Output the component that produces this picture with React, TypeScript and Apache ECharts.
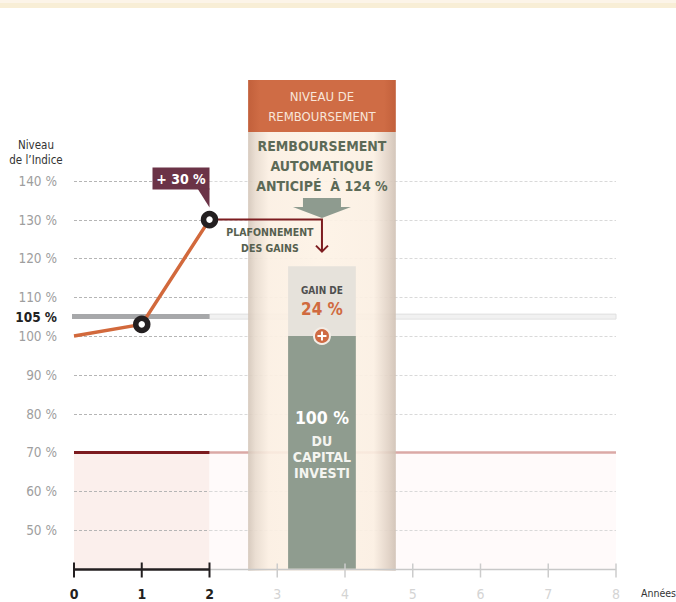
import React, { useEffect, useRef } from "react";
import * as echarts from "echarts";

// ---- data ----
const years = [0, 1, 2];
const indexLevels = [100, 103, 130];
const markerYears = [1, 2];
const markerLevels = [103, 130];
const xTicks = [0, 1, 2, 3, 4, 5, 6, 7, 8];
const yTicks = [50, 60, 70, 80, 90, 100, 110, 120, 130, 140];
const gridLevels = [50, 60, 80, 90, 100, 110, 120, 130, 140];
const barrierLevel = 70;
const thresholdLevel = 105;
const elapsedYears = 2;
const capLevel = 130;
const capitalLevel = 100;
const gainLevel = 118;
const redemptionWindow = [2.57, 4.75];
const redemptionCenter = 3.66;
const redemptionBar = [3.16, 4.16];
const perfLabel = "+ 30 %";
const gainLabel = "24 %";
const headerLines = ["NIVEAU DE", "REMBOURSEMENT"];
const redemptionLines = ["REMBOURSEMENT", "AUTOMATIQUE", "ANTICIPÉ  À 124 %"];
const capLines = ["PLAFONNEMENT", "DES GAINS"];
const capitalLines = ["DU", "CAPITAL", "INVESTI"];

const FONT = '"Liberation Sans Narrow", "DejaVu Sans Condensed", "Roboto", sans-serif';
const Y_MIN = 40;
const Y_MAX = 170;

function txt(text: string, x: number, y: number, size: number, fill: string, weight: any = "normal", align = "center") {
  return {
    type: "text",
    style: { text, x, y, fill, fontSize: size, fontWeight: weight, fontFamily: FONT, align, verticalAlign: "middle" },
  };
}
function seg(x1: number, y1: number, x2: number, y2: number, stroke: string, lineWidth: number, lineDash?: number[]) {
  return { type: "line", shape: { x1, y1, x2, y2 }, style: { stroke, lineWidth, lineDash } };
}

function renderBackground(_p: any, api: any) {
  const c = (x: number, y: number) => api.coord([x, y]);
  const [x0, yb] = c(0, Y_MIN);
  const x2 = c(elapsedYears, Y_MIN)[0];
  const x8 = c(8, Y_MIN)[0];
  const y70 = c(0, barrierLevel)[1];
  const y105 = c(0, thresholdLevel)[1];
  const ch: any[] = [];
  ch.push({ type: "rect", shape: { x: x0, y: y70, width: x2 - x0, height: yb - y70 }, style: { fill: "#fbefec" } });
  ch.push({ type: "rect", shape: { x: x2, y: y70, width: x8 - x2, height: yb - y70 }, style: { fill: "#fffafa" } });
  gridLevels.forEach((v) => {
    const y = Math.round(c(0, v)[1]) + 0.5;
    ch.push(seg(x0, y, x2, y, "#b5b5b5", 1, [3, 2]));
    ch.push(seg(x2, y, x8, y, "#d9d9d9", 1, [3, 2]));
  });
  ch.push({ type: "rect", shape: { x: x2, y: y105 - 2.5, width: x8 - x2, height: 5 }, style: { fill: "#f1f1f1", stroke: "#e0e0e0", lineWidth: 1 } });
  ch.push({ type: "rect", shape: { x: x0 - 2, y: y105 - 2.5, width: x2 - x0 + 2, height: 5 }, style: { fill: "#a7a8aa" } });
  ch.push(seg(x2, y70, x8, y70, "#dba9a6", 2.5));
  ch.push(seg(x0, y70, x2, y70, "#7c1b1f", 3));
  return { type: "group", children: ch };
}

function renderColumn(_p: any, api: any) {
  const c = (x: number, y: number) => api.coord([x, y]);
  const [cl, cb] = c(redemptionWindow[0], Y_MIN);
  const cr = c(redemptionWindow[1], Y_MIN)[0];
  const ct = c(0, 166)[1];
  const hb = c(0, 152.6)[1];
  const cx = c(redemptionCenter, 0)[0];
  const bl = c(redemptionBar[0], 0)[0];
  const br = c(redemptionBar[1], 0)[0];
  const yg = c(0, gainLevel)[1];
  const y100 = c(0, capitalLevel)[1];
  const ch: any[] = [];
  ch.push({
    type: "rect",
    shape: { x: cl, y: hb, width: cr - cl, height: cb - hb + 2 },
    style: {
      opacity: 0.9,
      fill: new echarts.graphic.LinearGradient(0, 0, 1, 0, [
        { offset: 0, color: "#d3c5b8" },
        { offset: 0.05, color: "#e8dbce" },
        { offset: 0.14, color: "#fbefe2" },
        { offset: 0.5, color: "#fdf2e5" },
        { offset: 0.85, color: "#fbefe2" },
        { offset: 0.95, color: "#e0d1c4" },
        { offset: 1, color: "#cfc0b3" },
      ]),
    },
  });
  ch.push({
    type: "rect",
    shape: { x: cl, y: ct, width: cr - cl, height: hb - ct },
    style: {
      fill: new echarts.graphic.LinearGradient(0, 0, 1, 0, [
        { offset: 0, color: "#c2603b" },
        { offset: 0.08, color: "#cf6c45" },
        { offset: 0.92, color: "#cf6c45" },
        { offset: 1, color: "#c2603b" },
      ]),
    },
  });
  headerLines.forEach((t, i) => ch.push(txt(t, cx, ct + 17 + i * 20, 13, "#f8e6da")));
  redemptionLines.forEach((t, i) => ch.push(txt(t, cx, hb + 14 + i * 20, 14, "#5c6a57", "bold")));
  ch.push({
    type: "polygon",
    shape: {
      points: [
        [cx - 19, hb + 66], [cx + 19, hb + 66], [cx + 19, hb + 75], [cx + 29, hb + 75],
        [cx, hb + 86], [cx - 29, hb + 75], [cx - 19, hb + 75],
      ],
    },
    style: { fill: "#8e9b8f" },
  });
  ch.push({ type: "rect", shape: { x: bl, y: yg, width: br - bl, height: y100 - yg }, style: { fill: "#e6e2db" } });
  ch.push({ type: "rect", shape: { x: bl, y: y100, width: br - bl, height: cb - y100 }, style: { fill: "#8f9c8f" } });
  ch.push(txt("GAIN DE", cx, yg + 24, 10, "#4f4f4f", "bold"));
  ch.push(txt(gainLabel, cx, yg + 43, 17, "#d06a3f", "bold"));
  ch.push({ type: "circle", shape: { cx, cy: y100, r: 8 }, style: { fill: "#cf6b44", stroke: "#f3ede6", lineWidth: 2 } });
  ch.push(seg(cx - 4.5, y100, cx + 4.5, y100, "#ffffff", 2));
  ch.push(seg(cx, y100 - 4.5, cx, y100 + 4.5, "#ffffff", 2));
  ch.push(txt(`${capitalLevel} %`, cx, y100 + 82, 17.5, "#ffffff", "bold"));
  capitalLines.forEach((t, i) => ch.push(txt(t, cx, y100 + 105 + i * 16, 14, "#f4f4f0", "bold")));
  return { type: "group", children: ch };
}

function renderAnnotations(_p: any, api: any) {
  const c = (x: number, y: number) => api.coord([x, y]);
  const [x0, yb] = c(0, Y_MIN);
  const x2 = c(elapsedYears, Y_MIN)[0];
  const [x8] = c(8, Y_MIN);
  const [px, py] = c(elapsedYears, capLevel);
  const ax = c(redemptionCenter, 0)[0];
  const ch: any[] = [];
  // x axis
  const ya = Math.round(yb) + 0.5;
  ch.push(seg(x2, ya, x8, ya, "#c8c8c8", 1.5));
  xTicks.forEach((t) => {
    const x = c(t, 0)[0];
    if (t > elapsedYears) ch.push(seg(x, ya - 6, x, ya + 8, "#cccccc", 1.5));
  });
  ch.push(seg(x0, ya, x2, ya, "#231f20", 2.5));
  xTicks.forEach((t) => {
    const x = c(t, 0)[0];
    if (t <= elapsedYears) ch.push(seg(x, ya - 7, x, ya + 8, "#231f20", 2));
  });
  ch.push(txt("Années", x8 + 25, ya + 23, 10.5, "#333333", "normal", "left"));
  // y axis title
  const [, y140] = c(0, 140);
  ch.push(txt("Niveau", x0 - 38, y140 - 36, 11.5, "#333333"));
  ch.push(txt("de l’Indice", x0 - 38, y140 - 21, 11.5, "#333333"));
  ch.push(txt(`${thresholdLevel} %`, x0 - 17, c(0, thresholdLevel)[1], 13.5, "#222222", "bold", "right"));
  // cap arrow
  ch.push({
    type: "polyline",
    shape: { points: [[px, py], [ax, py], [ax, py + 32]] },
    style: { stroke: "#7d1d20", lineWidth: 2, fill: null },
  });
  ch.push({
    type: "polyline",
    shape: { points: [[ax - 6, py + 26], [ax, py + 32], [ax + 6, py + 26]] },
    style: { stroke: "#7d1d20", lineWidth: 2, fill: null },
  });
  capLines.forEach((t, i) => ch.push(txt(t, ax - 52, py + 12 + i * 16, 10.5, "#56604f", "bold")));
  // +30% callout
  ch.push({ type: "rect", shape: { x: px - 57, y: py - 52, width: 57, height: 22 }, style: { fill: "#6b3347" } });
  ch.push({ type: "polygon", shape: { points: [[px - 12, py - 31], [px, py - 31], [px, py - 12]] }, style: { fill: "#6b3347" } });
  ch.push(txt(perfLabel, px - 28.5, py - 41, 14, "#ffffff", "bold"));
  return { type: "group", children: ch };
}

export default function App() {
  const ref = useRef<HTMLDivElement>(null);
  useEffect(() => {
    if (!ref.current) return;
    const chart = echarts.init(ref.current, null, { renderer: "svg" });
    const top = 336 - (Y_MAX - 100) * 3.88;
    chart.setOption({
      animation: false,
      backgroundColor: "#ffffff",
      graphic: [
        { type: "rect", shape: { x: 0, y: 0, width: 676, height: 8 }, style: { fill: "#f8eed6" }, z: 0 },
        { type: "rect", shape: { x: 0, y: 0, width: 676, height: 3 }, style: { fill: "#fcf4e8" }, z: 0 },
      ],
      grid: { left: 74, right: 60, top, bottom: 602 - 568.8 },
      xAxis: {
        type: "value",
        min: 0,
        max: 8,
        interval: 1,
        axisLine: { show: false },
        axisTick: { show: false },
        splitLine: { show: false },
        axisLabel: {
          margin: 18,
          formatter: (v: number) => (v <= elapsedYears ? `{a|${v}}` : `{b|${v}}`),
          rich: {
            a: { fontFamily: FONT, fontSize: 14, fontWeight: "bold", color: "#231f20" },
            b: { fontFamily: FONT, fontSize: 14, color: "#d4d4d4" },
          },
        },
      },
      yAxis: {
        type: "value",
        min: Y_MIN,
        max: Y_MAX,
        interval: 10,
        axisLine: { show: false },
        axisTick: { show: false },
        splitLine: { show: false },
        axisLabel: {
          margin: 17,
          fontFamily: FONT,
          fontSize: 13.5,
          color: "#9e9e9e",
          formatter: (v: number) => (yTicks.includes(v) ? `${v} %` : ""),
        },
      },
      series: [
        { type: "custom", silent: true, clip: false, z: 1, data: [[0, Y_MIN]], renderItem: renderBackground },
        { type: "custom", silent: true, clip: false, z: 2, data: [[0, Y_MIN]], renderItem: renderColumn },
        {
          type: "line",
          z: 4,
          symbol: "none",
          silent: true,
          data: years.map((y, i) => [y, indexLevels[i]]),
          lineStyle: { color: "#d2693c", width: 3.5 },
        },
        { type: "custom", silent: true, clip: false, z: 5, data: [[0, Y_MIN]], renderItem: renderAnnotations },
        {
          type: "scatter",
          z: 10,
          silent: true,
          symbol: "circle",
          symbolSize: 12,
          data: markerYears.map((y, i) => [y, markerLevels[i]]),
          itemStyle: { color: "#ffffff", borderColor: "#231f20", borderWidth: 5.5, opacity: 1 },
        },
      ],
    });
    return () => chart.dispose();
  }, []);
  return <div ref={ref} style={{ position: "fixed", left: 0, top: 0, width: 676, height: 602 }} />;
}
